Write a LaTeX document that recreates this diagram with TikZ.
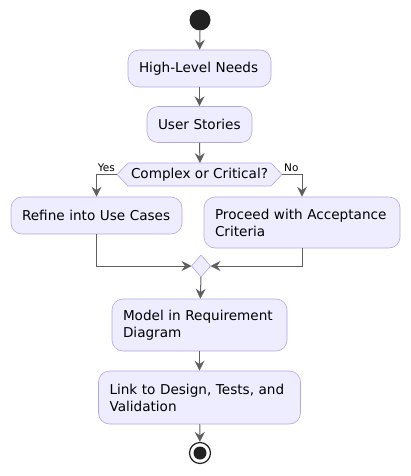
\documentclass[tikz,border=0pt]{standalone}
\usepackage{fontspec}
\setmainfont{DejaVu Sans}
\usetikzlibrary{arrows.meta}
\definecolor{actfill}{RGB}{238,236,255}
\definecolor{actborder}{RGB}{180,167,229}
\definecolor{arrowcol}{RGB}{95,95,95}
\definecolor{dotcol}{RGB}{34,34,34}
\tikzset{
  act/.style={draw=actborder, fill=actfill, rounded corners=11pt, line width=0.6pt,
    inner xsep=11pt, inner ysep=0pt, align=left, font=\fontsize{13.6}{17}\selectfont},
  shapeline/.style={draw=actborder, fill=actfill, line width=0.6pt},
  flow/.style={draw=arrowcol, line width=1pt, -{Stealth[length=10pt,width=10pt,inset=3.5pt]}},
  lbl/.style={font=\fontsize{10.5}{12}\selectfont, inner sep=0pt},
}
\begin{document}
\begin{tikzpicture}[x=1pt,y=-1pt]
\useasboundingbox (0,0) rectangle (410,476);
% start
\node[circle, fill=dotcol, minimum size=21pt, inner sep=0pt] (start) at (200,20) {};
% activities
\node[act, text width=121pt, minimum height=37pt] (hl) at (199.5,68.5) {High-Level Needs};
\node[act, text width=83pt, minimum height=36pt] (us) at (199.5,124.5) {User Stories};
% decision
\coordinate (decL) at (117,174.5);
\coordinate (decR) at (282,174.5);
\coordinate (decT) at (200,163);
\draw[shapeline] (decL) -- (128,163) -- (271,163) -- (decR) -- (271,186) -- (128,186) -- cycle;
\node[inner sep=0pt, font=\fontsize{13.6}{17}\selectfont] (dec) at (199.5,174.5) {Complex or Critical?};
\node[act, text width=149pt, minimum height=37pt] (ref) at (96.5,215.5) {Refine into Use Cases};
\node[act, text width=174pt, minimum height=51pt] (pro) at (302,222.5) {Proceed with Acceptance\\Criteria};
% merge
\coordinate (mL) at (191.5,266);
\coordinate (mR) at (210.5,266);
\coordinate (mB) at (201,277);
\draw[shapeline] (mL) -- (201,255) -- (mR) -- (mB) -- cycle;
\node[act, text width=153pt, minimum height=52pt] (mod) at (199.5,325) {Model in Requirement\\Diagram};
\node[act, text width=180pt, minimum height=53pt] (lnk) at (199.5,397.5) {Link to Design, Tests, and\\Validation};
% end
\node[circle, draw=dotcol, line width=1.2pt, fill=white, minimum size=21pt, inner sep=0pt] (end) at (200,453) {};
\fill[dotcol] (end) circle (6.5pt);
% connectors
\draw[flow] (start) -- (hl);
\draw[flow] (hl) -- (us);
\draw[flow] (us.south) -- (decT);
\draw[flow] (decL) -| (ref.north);
\draw[flow] (decR) -| (pro.north);
\node[lbl, anchor=south east] (yes) at (115,172) {Yes};
\node[lbl, anchor=south west] (no) at (284,172) {No};
\draw[flow] (ref.south) |- (mL);
\draw[flow] (pro.south) |- (mR);
\draw[flow] (mB) -- (mod);
\draw[flow] (mod) -- (lnk);
\draw[flow] (lnk) -- (end);
\end{tikzpicture}
\end{document}
